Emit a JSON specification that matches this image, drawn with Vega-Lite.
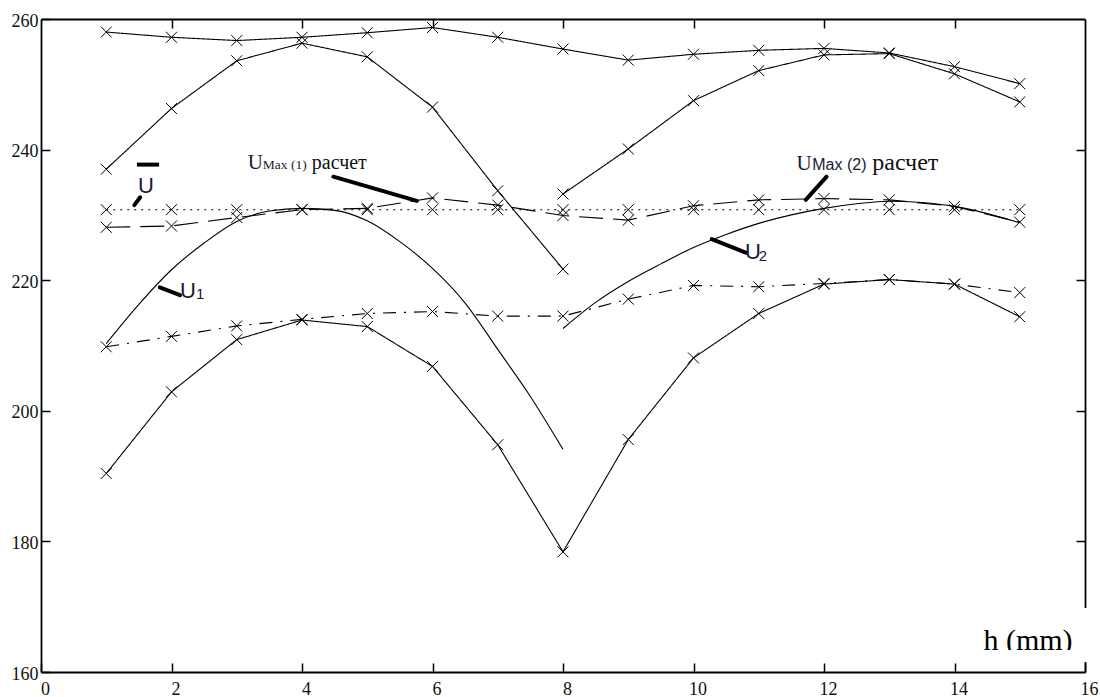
{
  "$schema": "https://vega.github.io/schema/vega-lite/v6.json",
  "width": 1044,
  "height": 653,
  "autosize": {"type": "none"},
  "padding": {"left": 41, "top": 19, "right": 15, "bottom": 25},
  "background": "white",
  "config": {"view": {"stroke": null}, "axis": {"labelFont": "Liberation Serif", "labelFontSize": 18, "labelColor": "#111"}},
  "resolve": {"axis": {"x": "independent", "y": "independent"}},
  "datasets": {
    "series": [
      {"h": 1, "u": 258.0, "s": "A"}, {"h": 2, "u": 257.2, "s": "A"}, {"h": 3, "u": 256.7, "s": "A"}, {"h": 4, "u": 257.2, "s": "A"}, {"h": 5, "u": 257.9, "s": "A"}, {"h": 6, "u": 258.7, "s": "A"}, {"h": 7, "u": 257.2, "s": "A"}, {"h": 8, "u": 255.4, "s": "A"}, {"h": 9, "u": 253.7, "s": "A"}, {"h": 10, "u": 254.6, "s": "A"}, {"h": 11, "u": 255.2, "s": "A"}, {"h": 12, "u": 255.5, "s": "A"}, {"h": 13, "u": 254.8, "s": "A"}, {"h": 14, "u": 252.7, "s": "A"}, {"h": 15, "u": 250.1, "s": "A"},
      {"h": 1, "u": 237.0, "s": "B1"}, {"h": 2, "u": 246.3, "s": "B1"}, {"h": 3, "u": 253.6, "s": "B1"}, {"h": 4, "u": 256.3, "s": "B1"}, {"h": 5, "u": 254.2, "s": "B1"}, {"h": 6, "u": 246.5, "s": "B1"}, {"h": 7, "u": 233.7, "s": "B1"}, {"h": 8, "u": 221.7, "s": "B1"},
      {"h": 8, "u": 233.2, "s": "B2"}, {"h": 9, "u": 240.1, "s": "B2"}, {"h": 10, "u": 247.5, "s": "B2"}, {"h": 11, "u": 252.1, "s": "B2"}, {"h": 12, "u": 254.5, "s": "B2"}, {"h": 13, "u": 254.7, "s": "B2"}, {"h": 14, "u": 251.6, "s": "B2"}, {"h": 15, "u": 247.3, "s": "B2"},
      {"h": 1, "u": 230.8, "s": "Ubar"}, {"h": 2, "u": 230.8, "s": "Ubar"}, {"h": 3, "u": 230.8, "s": "Ubar"}, {"h": 4, "u": 230.8, "s": "Ubar"}, {"h": 5, "u": 230.8, "s": "Ubar"}, {"h": 6, "u": 230.8, "s": "Ubar"}, {"h": 7, "u": 230.8, "s": "Ubar"}, {"h": 8, "u": 230.8, "s": "Ubar"}, {"h": 9, "u": 230.8, "s": "Ubar"}, {"h": 10, "u": 230.8, "s": "Ubar"}, {"h": 11, "u": 230.8, "s": "Ubar"}, {"h": 12, "u": 230.8, "s": "Ubar"}, {"h": 13, "u": 230.8, "s": "Ubar"}, {"h": 14, "u": 230.8, "s": "Ubar"}, {"h": 15, "u": 230.8, "s": "Ubar"},
      {"h": 1, "u": 228.1, "s": "Umax"}, {"h": 2, "u": 228.3, "s": "Umax"}, {"h": 3, "u": 229.6, "s": "Umax"}, {"h": 4, "u": 230.8, "s": "Umax"}, {"h": 5, "u": 231.0, "s": "Umax"}, {"h": 6, "u": 232.6, "s": "Umax"}, {"h": 7, "u": 231.5, "s": "Umax"}, {"h": 8, "u": 229.9, "s": "Umax"}, {"h": 9, "u": 229.2, "s": "Umax"}, {"h": 10, "u": 231.4, "s": "Umax"}, {"h": 11, "u": 232.3, "s": "Umax"}, {"h": 12, "u": 232.5, "s": "Umax"}, {"h": 13, "u": 232.3, "s": "Umax"}, {"h": 14, "u": 231.3, "s": "Umax"}, {"h": 15, "u": 228.9, "s": "Umax"},
      {"h": 1, "u": 209.8, "s": "DD"}, {"h": 2, "u": 211.4, "s": "DD"}, {"h": 3, "u": 213.0, "s": "DD"}, {"h": 4, "u": 214.0, "s": "DD"}, {"h": 5, "u": 214.9, "s": "DD"}, {"h": 6, "u": 215.2, "s": "DD"}, {"h": 7, "u": 214.5, "s": "DD"}, {"h": 8, "u": 214.5, "s": "DD"}, {"h": 9, "u": 217.1, "s": "DD"}, {"h": 10, "u": 219.2, "s": "DD"}, {"h": 11, "u": 219.0, "s": "DD"}, {"h": 12, "u": 219.5, "s": "DD"}, {"h": 13, "u": 220.1, "s": "DD"}, {"h": 14, "u": 219.4, "s": "DD"}, {"h": 15, "u": 218.1, "s": "DD"},
      {"h": 1, "u": 190.4, "s": "L"}, {"h": 2, "u": 202.9, "s": "L"}, {"h": 3, "u": 210.9, "s": "L"}, {"h": 4, "u": 213.9, "s": "L"}, {"h": 5, "u": 212.9, "s": "L"}, {"h": 6, "u": 206.8, "s": "L"}, {"h": 7, "u": 194.8, "s": "L"}, {"h": 8, "u": 178.4, "s": "L"}, {"h": 9, "u": 195.6, "s": "L"}, {"h": 10, "u": 208.1, "s": "L"}, {"h": 11, "u": 214.9, "s": "L"}, {"h": 12, "u": 219.4, "s": "L"}, {"h": 13, "u": 220.1, "s": "L"}, {"h": 14, "u": 219.4, "s": "L"}, {"h": 15, "u": 214.4, "s": "L"}
    ],
    "curves": [
      {"h": 1, "u": 210.3, "s": "U1"}, {"h": 1.5, "u": 216.3, "s": "U1"}, {"h": 2, "u": 221.6, "s": "U1"}, {"h": 2.5, "u": 225.7, "s": "U1"}, {"h": 3, "u": 229.0, "s": "U1"}, {"h": 3.5, "u": 230.6, "s": "U1"}, {"h": 4, "u": 231.0, "s": "U1"}, {"h": 4.5, "u": 230.7, "s": "U1"}, {"h": 5, "u": 229.1, "s": "U1"}, {"h": 5.5, "u": 225.9, "s": "U1"}, {"h": 6, "u": 221.8, "s": "U1"}, {"h": 6.5, "u": 216.5, "s": "U1"}, {"h": 7, "u": 209.4, "s": "U1"}, {"h": 7.5, "u": 202.2, "s": "U1"}, {"h": 8, "u": 194.1, "s": "U1"},
      {"h": 8, "u": 212.6, "s": "U2"}, {"h": 8.5, "u": 216.6, "s": "U2"}, {"h": 9, "u": 219.8, "s": "U2"}, {"h": 9.5, "u": 222.5, "s": "U2"}, {"h": 10, "u": 225.0, "s": "U2"}, {"h": 10.5, "u": 227.0, "s": "U2"}, {"h": 11, "u": 228.7, "s": "U2"}, {"h": 11.5, "u": 230.0, "s": "U2"}, {"h": 12, "u": 231.0, "s": "U2"}, {"h": 12.5, "u": 231.7, "s": "U2"}, {"h": 13, "u": 232.1, "s": "U2"}, {"h": 13.5, "u": 231.9, "s": "U2"}, {"h": 14, "u": 231.3, "s": "U2"}, {"h": 14.5, "u": 230.2, "s": "U2"}, {"h": 15, "u": 228.8, "s": "U2"}
    ],
    "leaders": [
      {"x": 1.43, "y": 231.5, "x2": 1.52, "y2": 232.7},
      {"x": 1.82, "y": 218.9, "x2": 2.13, "y2": 217.7},
      {"x": 10.28, "y": 226.3, "x2": 10.81, "y2": 224.2},
      {"x": 4.48, "y": 235.85, "x2": 5.76, "y2": 232.15},
      {"x": 12.04, "y": 235.85, "x2": 11.72, "y2": 232.3}
    ],
    "overbar": [{"x": 1.47, "y": 237.7, "x2": 1.81, "y2": 237.7}],
    "bigU": [
      {"x": 1.486, "y": 233.35, "t": "U"},
      {"x": 2.13, "y": 217.35, "t": "U"},
      {"x": 10.79, "y": 223.25, "t": "U"}
    ],
    "subs": [
      {"x": 2.375, "y": 217.1, "t": "1"},
      {"x": 11.0, "y": 223.0, "t": "2"}
    ],
    "maxU": [
      {"x": 3.17, "y": 237.0, "t": "U"},
      {"x": 11.58, "y": 236.9, "t": "U"}
    ],
    "max1": [{"x": 3.4, "y": 237.0, "t": "Max (1)"}],
    "max2": [{"x": 11.82, "y": 236.9, "t": "Max (2)"}],
    "calc1": [{"x": 4.15, "y": 237.0, "t": "расчет"}],
    "calc2": [{"x": 12.74, "y": 236.9, "t": "расчет"}],
    "hlabel": [{"x": 15.81, "y": 163.37, "t": "h (mm)"}],
    "maskBack": [{"x": 14.3, "x2": 16.05, "y": 163.37, "y2": 169.8}],
    "maskFront": [{"x": 14.3, "x2": 16.05, "y": 161.53, "y2": 163.37}]
  },
  "layer": [
    {
      "data": {"name": "maskBack"},
      "mark": {"type": "rect", "fill": "white", "stroke": null},
      "encoding": {
        "x": {"field": "x", "type": "quantitative", "scale": {"domain": [0, 16], "nice": false, "zero": false},
              "axis": {"orient": "top", "values": [2, 4, 6, 8, 10, 12, 14], "tickSize": -9, "tickWidth": 1.5, "tickColor": "#000", "labels": false, "title": null, "grid": false, "domainColor": "#000", "domainWidth": 1.8, "zindex": 0}},
        "x2": {"field": "x2"},
        "y": {"field": "y", "type": "quantitative", "scale": {"domain": [160, 260], "nice": false, "zero": false},
              "axis": {"orient": "right", "values": [180, 200, 220, 240], "tickSize": -9, "tickWidth": 1.5, "tickColor": "#000", "labels": false, "title": null, "grid": false, "domainColor": "#000", "domainWidth": 1.8, "zindex": 0}},
        "y2": {"field": "y2"}
      }
    },
    {
      "data": {"name": "series"},
      "mark": {"type": "line", "stroke": "#000", "strokeWidth": 1.1},
      "encoding": {
        "x": {"field": "h", "type": "quantitative", "scale": {"domain": [0, 16], "nice": false, "zero": false},
              "axis": {"orient": "bottom", "values": [0, 2, 4, 6, 8, 10, 12, 14, 16], "tickSize": -9, "tickWidth": 1.5, "tickColor": "#000", "domainColor": "#000", "domainWidth": 1.8, "grid": false, "title": null,
                       "labelFont": "Liberation Serif", "labelFontSize": 18, "labelColor": "#111", "labelAlign": "center", "labelOffset": 4, "labelPadding": 17, "labelBaseline": "top", "labelFlush": false, "labelOverlap": false, "labelBound": false, "zindex": 0}},
        "y": {"field": "u", "type": "quantitative", "scale": {"domain": [160, 260], "nice": false, "zero": false},
              "axis": {"orient": "left", "values": [160, 180, 200, 220, 240, 260], "tickSize": -9, "tickWidth": 1.5, "tickColor": "#000", "domainColor": "#000", "domainWidth": 1.8, "grid": false, "title": null,
                       "labelFont": "Liberation Serif", "labelFontSize": 18, "labelColor": "#111", "labelAlign": "right", "labelBaseline": "middle", "labelOffset": 2, "labelPadding": 12, "labelFlush": false, "labelOverlap": false, "labelBound": false, "zindex": 0}},
        "detail": {"field": "s"},
        "strokeDash": {"field": "s", "type": "nominal", "legend": null,
                       "scale": {"domain": ["A", "B1", "B2", "Ubar", "Umax", "DD", "L"], "range": [[1, 0], [1, 0], [1, 0], [2, 5], [24, 10], [13, 8, 2, 8], [1, 0]]}}
      }
    },
    {
      "data": {"name": "curves"},
      "mark": {"type": "line", "stroke": "#000", "strokeWidth": 1.1, "interpolate": "monotone"},
      "encoding": {
        "x": {"field": "h", "type": "quantitative", "scale": {"domain": [0, 16], "nice": false, "zero": false}, "axis": null},
        "y": {"field": "u", "type": "quantitative", "scale": {"domain": [160, 260], "nice": false, "zero": false}, "axis": null},
        "detail": {"field": "s"}
      }
    },
    {
      "data": {"name": "series"},
      "mark": {"type": "point", "shape": "M-1,-1L1,1M1,-1L-1,1", "filled": false, "stroke": "#000", "strokeWidth": 1, "size": 121, "opacity": 1},
      "encoding": {
        "x": {"field": "h", "type": "quantitative", "scale": {"domain": [0, 16], "nice": false, "zero": false}, "axis": null},
        "y": {"field": "u", "type": "quantitative", "scale": {"domain": [160, 260], "nice": false, "zero": false}, "axis": null}
      }
    },
    {
      "data": {"name": "leaders"},
      "mark": {"type": "rule", "stroke": "#000", "strokeWidth": 4, "strokeCap": "round"},
      "encoding": {
        "x": {"field": "x", "type": "quantitative", "scale": {"domain": [0, 16], "nice": false, "zero": false}, "axis": null},
        "y": {"field": "y", "type": "quantitative", "scale": {"domain": [160, 260], "nice": false, "zero": false}, "axis": null},
        "x2": {"field": "x2"},
        "y2": {"field": "y2"}
      }
    },
    {
      "data": {"name": "overbar"},
      "mark": {"type": "rule", "stroke": "#000", "strokeWidth": 4, "strokeCap": "butt"},
      "encoding": {
        "x": {"field": "x", "type": "quantitative", "scale": {"domain": [0, 16], "nice": false, "zero": false}, "axis": null},
        "y": {"field": "y", "type": "quantitative", "scale": {"domain": [160, 260], "nice": false, "zero": false}, "axis": null},
        "x2": {"field": "x2"},
        "y2": {"field": "y2"}
      }
    },
    {
      "data": {"name": "bigU"},
      "mark": {"type": "text", "font": "Liberation Sans", "fontSize": 22, "align": "left", "baseline": "alphabetic", "fill": "#1a1a33"},
      "encoding": {
        "x": {"field": "x", "type": "quantitative", "scale": {"domain": [0, 16], "nice": false, "zero": false}, "axis": null},
        "y": {"field": "y", "type": "quantitative", "scale": {"domain": [160, 260], "nice": false, "zero": false}, "axis": null},
        "text": {"field": "t"}
      }
    },
    {
      "data": {"name": "subs"},
      "mark": {"type": "text", "font": "Liberation Sans", "fontSize": 15, "align": "left", "baseline": "alphabetic", "fill": "#1a1a33"},
      "encoding": {
        "x": {"field": "x", "type": "quantitative", "scale": {"domain": [0, 16], "nice": false, "zero": false}, "axis": null},
        "y": {"field": "y", "type": "quantitative", "scale": {"domain": [160, 260], "nice": false, "zero": false}, "axis": null},
        "text": {"field": "t"}
      }
    },
    {
      "data": {"name": "maxU"},
      "mark": {"type": "text", "font": "Liberation Serif", "fontSize": 21, "align": "left", "baseline": "alphabetic", "fill": "#1a1a33"},
      "encoding": {
        "x": {"field": "x", "type": "quantitative", "scale": {"domain": [0, 16], "nice": false, "zero": false}, "axis": null},
        "y": {"field": "y", "type": "quantitative", "scale": {"domain": [160, 260], "nice": false, "zero": false}, "axis": null},
        "text": {"field": "t"}
      }
    },
    {
      "data": {"name": "max1"},
      "mark": {"type": "text", "font": "Liberation Serif", "fontSize": 13.5, "align": "left", "baseline": "alphabetic", "fill": "#1a1a33"},
      "encoding": {
        "x": {"field": "x", "type": "quantitative", "scale": {"domain": [0, 16], "nice": false, "zero": false}, "axis": null},
        "y": {"field": "y", "type": "quantitative", "scale": {"domain": [160, 260], "nice": false, "zero": false}, "axis": null},
        "text": {"field": "t"}
      }
    },
    {
      "data": {"name": "max2"},
      "mark": {"type": "text", "font": "Liberation Sans", "fontSize": 16, "align": "left", "baseline": "alphabetic", "fill": "#1a1a33"},
      "encoding": {
        "x": {"field": "x", "type": "quantitative", "scale": {"domain": [0, 16], "nice": false, "zero": false}, "axis": null},
        "y": {"field": "y", "type": "quantitative", "scale": {"domain": [160, 260], "nice": false, "zero": false}, "axis": null},
        "text": {"field": "t"}
      }
    },
    {
      "data": {"name": "calc1"},
      "mark": {"type": "text", "font": "Liberation Serif", "fontSize": 20, "align": "left", "baseline": "alphabetic", "fill": "#111"},
      "encoding": {
        "x": {"field": "x", "type": "quantitative", "scale": {"domain": [0, 16], "nice": false, "zero": false}, "axis": null},
        "y": {"field": "y", "type": "quantitative", "scale": {"domain": [160, 260], "nice": false, "zero": false}, "axis": null},
        "text": {"field": "t"}
      }
    },
    {
      "data": {"name": "calc2"},
      "mark": {"type": "text", "font": "Liberation Serif", "fontSize": 24, "align": "left", "baseline": "alphabetic", "fill": "#111"},
      "encoding": {
        "x": {"field": "x", "type": "quantitative", "scale": {"domain": [0, 16], "nice": false, "zero": false}, "axis": null},
        "y": {"field": "y", "type": "quantitative", "scale": {"domain": [160, 260], "nice": false, "zero": false}, "axis": null},
        "text": {"field": "t"}
      }
    },
    {
      "data": {"name": "hlabel"},
      "mark": {"type": "text", "font": "Liberation Serif", "fontSize": 30, "align": "right", "baseline": "alphabetic", "fill": "#000"},
      "encoding": {
        "x": {"field": "x", "type": "quantitative", "scale": {"domain": [0, 16], "nice": false, "zero": false}, "axis": null},
        "y": {"field": "y", "type": "quantitative", "scale": {"domain": [160, 260], "nice": false, "zero": false}, "axis": null},
        "text": {"field": "t"}
      }
    },
    {
      "data": {"name": "maskFront"},
      "mark": {"type": "rect", "fill": "white", "stroke": null},
      "encoding": {
        "x": {"field": "x", "type": "quantitative", "scale": {"domain": [0, 16], "nice": false, "zero": false}, "axis": null},
        "x2": {"field": "x2"},
        "y": {"field": "y", "type": "quantitative", "scale": {"domain": [160, 260], "nice": false, "zero": false}, "axis": null},
        "y2": {"field": "y2"}
      }
    }
  ]
}
